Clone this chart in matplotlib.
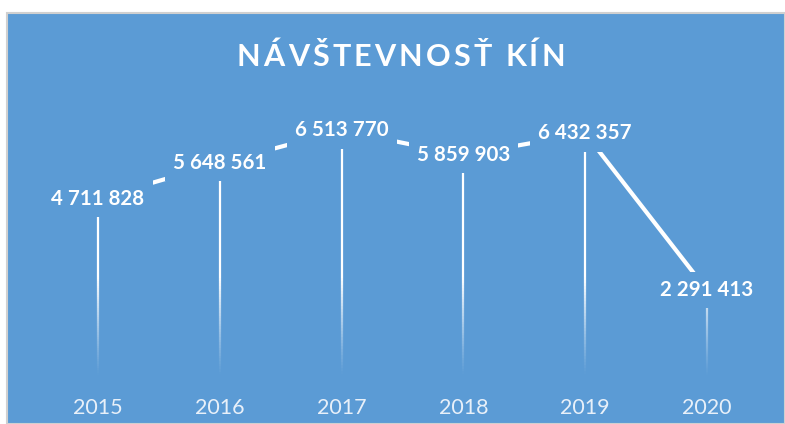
import numpy as np
import matplotlib.pyplot as plt
from matplotlib.patches import Rectangle
from matplotlib.collections import LineCollection

# data
years = ["2015", "2016", "2017", "2018", "2019", "2020"]
visitors = [4711828, 5648561, 6513770, 5859903, 6432357, 2291413]
value_labels = ["4 711 828", "5 648 561", "6 513 770", "5 859 903", "6 432 357", "2 291 413"]
title = "NÁVŠTEVNOSŤ KÍN"

BLUE = "#5B9BD5"
plt.rcParams["font.family"] = ["Lato", "DejaVu Sans"]

fig = plt.figure(figsize=(7.85, 4.24), dpi=100)
fig.patch.set_facecolor("white")

# chart background panel with thin grey border
panel = Rectangle((7 / 785, 0), 1 - 7 / 785, 1 - 13 / 424, transform=fig.transFigure,
                  facecolor=BLUE, edgecolor="#D0D0D0", linewidth=1.5, zorder=-5)
fig.patches.append(panel)

ax = fig.add_axes([37 / 785, (424 - 377) / 424, (768 - 37) / 785, (377 - 112) / 424])
ax.set_zorder(2)
ax.set_facecolor("none")
for s in ax.spines.values():
    s.set_visible(False)

x = np.arange(len(years))

# drop lines fading to the bottom
for xi, v in zip(x, visitors):
    n = 80
    ys = np.linspace(0, v, n + 1)
    segs = [[(xi, ys[i]), (xi, ys[i + 1])] for i in range(n)]
    alphas = np.clip(ys[:-1] / 2.6e6, 0, 1) ** 1.2
    cols = [(1, 1, 1, a) for a in alphas]
    ax.add_collection(LineCollection(segs, colors=cols, linewidths=1.6, zorder=1))

ax.plot(x, visitors, color="white", linewidth=3.0, solid_capstyle="butt", zorder=2)

for xi, v, lab in zip(x, visitors, value_labels):
    ax.text(xi, v, lab, ha="center", va="center", color="white", fontsize=14.8,
            fontweight="bold", zorder=3,
            bbox=dict(boxstyle="square,pad=0.4", facecolor=BLUE, edgecolor="none"))

ax.set_xlim(-0.5, len(years) - 0.5)
ax.set_ylim(0, 7000000)
ax.set_yticks([])
ax.set_xticks(x)
ax.set_xticklabels(years, color="#E8F0F9", fontsize=15.5)
ax.tick_params(axis="x", length=0, pad=15)

# title with letter spacing (one text per character)
renderer = fig.canvas.get_renderer()
spacing = 3.2
chars = []
for ch in title:
    t = fig.text(0, 1 - 57 / 424, ch, ha="left", va="center", color="white",
                 fontsize=22, fontweight="bold")
    w = t.get_window_extent(renderer).width if ch != " " else 7
    chars.append((t, w))
total = sum(w for _, w in chars) + spacing * (len(chars) - 1)
xpos = 401 - total / 2
for t, w in chars:
    t.set_x(xpos / 785)
    xpos += w + spacing

fig.savefig("out.png", dpi=100, facecolor=fig.get_facecolor())
